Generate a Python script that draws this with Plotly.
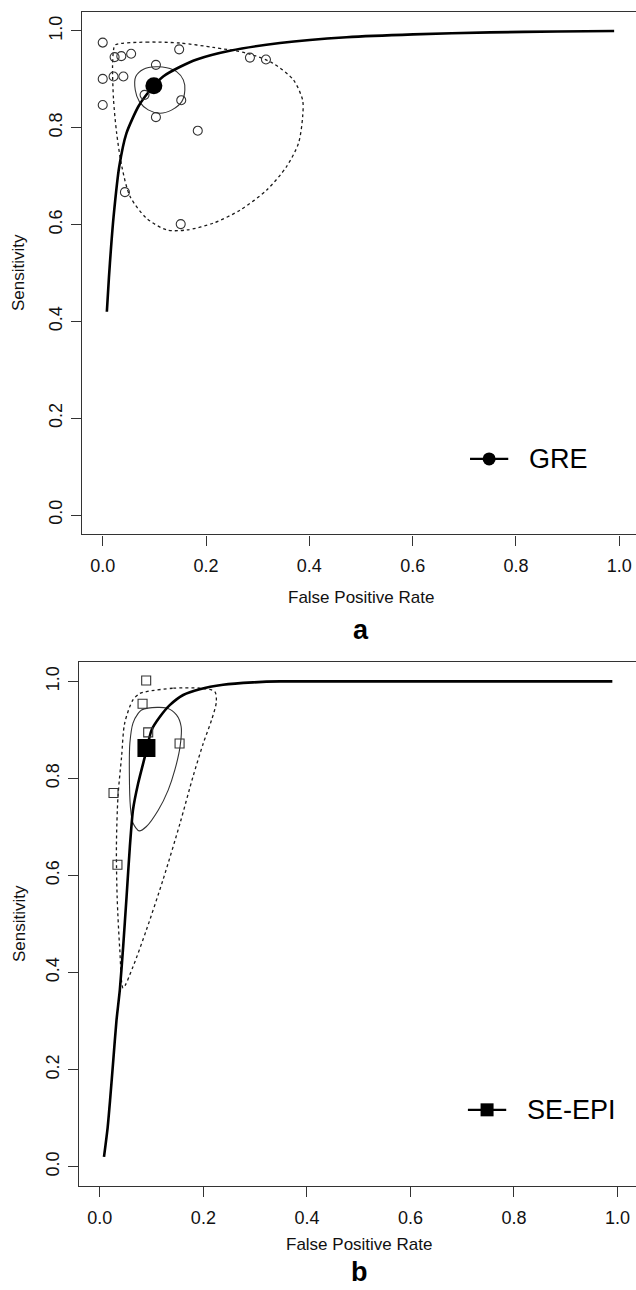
import plotly.graph_objects as go

W, H = 636, 1290

# ---------------- Panel a: GRE ----------------
gre_fpr = [0.0, 0.023, 0.036, 0.055, 0.148, 0.0, 0.021, 0.040, 0.0, 0.103,
           0.081, 0.152, 0.103, 0.184, 0.285, 0.316, 0.043, 0.151]
gre_sens = [0.976, 0.946, 0.948, 0.953, 0.962, 0.901, 0.906, 0.906, 0.847, 0.930,
            0.868, 0.857, 0.822, 0.794, 0.945, 0.941, 0.667, 0.601]
gre_sum_fpr = [0.099]
gre_sum_sens = [0.887]
gre_sroc_fpr = [0.008, 0.012, 0.016, 0.021, 0.032, 0.046, 0.069, 0.092, 0.117, 0.150,
                0.182, 0.246, 0.343, 0.472, 0.601, 0.75, 0.88, 0.99]
gre_sroc_sens = [0.42, 0.49, 0.551, 0.616, 0.720, 0.789, 0.844, 0.878, 0.906, 0.926,
                 0.941, 0.959, 0.975, 0.987, 0.993, 0.997, 0.999, 1.0]
gre_conf_fpr = [0.103, 0.124, 0.143, 0.156, 0.159, 0.153, 0.134, 0.111, 0.088, 0.071,
                0.063, 0.064, 0.079, 0.103]
gre_conf_sens = [0.926, 0.924, 0.916, 0.899, 0.878, 0.854, 0.837, 0.830, 0.837, 0.854,
                 0.878, 0.906, 0.921, 0.926]
gre_pred_fpr = [0.024, 0.085, 0.150, 0.214, 0.279, 0.330, 0.369, 0.387, 0.387, 0.379,
                0.356, 0.317, 0.266, 0.214, 0.163, 0.124, 0.085, 0.053, 0.037, 0.027,
                0.021, 0.019, 0.021, 0.024]
gre_pred_sens = [0.971, 0.977, 0.975, 0.966, 0.954, 0.933, 0.899, 0.857, 0.823, 0.768,
                 0.720, 0.671, 0.630, 0.603, 0.589, 0.589, 0.613, 0.658, 0.720, 0.789,
                 0.857, 0.926, 0.961, 0.971]

# ---------------- Panel b: SE-EPI ----------------
epi_fpr = [0.0895, 0.0825, 0.0934, 0.154, 0.0264, 0.034]
epi_sens = [1.002, 0.954, 0.895, 0.872, 0.770, 0.622]
epi_sum_fpr = [0.090]
epi_sum_sens = [0.863]
epi_sroc_fpr = [0.008, 0.015, 0.020, 0.026, 0.032, 0.0386, 0.045, 0.0516, 0.058, 0.064,
                0.074, 0.087, 0.100, 0.116, 0.135, 0.161, 0.193, 0.238, 0.296, 0.348,
                0.5, 0.7, 0.99]
epi_sroc_sens = [0.02, 0.08, 0.14, 0.22, 0.30, 0.364, 0.453, 0.556, 0.660, 0.735,
                 0.790, 0.845, 0.900, 0.927, 0.951, 0.972, 0.984, 0.993, 0.998, 1.0,
                 1.0, 1.0, 1.0]
epi_conf_fpr = [0.0805, 0.093, 0.129, 0.148, 0.157, 0.155, 0.145, 0.132, 0.113, 0.090,
                0.076, 0.064, 0.059, 0.057, 0.058, 0.064, 0.074, 0.0805]
epi_conf_sens = [0.941, 0.945, 0.945, 0.931, 0.907, 0.866, 0.818, 0.776, 0.735, 0.701,
                 0.692, 0.708, 0.742, 0.811, 0.873, 0.914, 0.934, 0.941]
epi_pred_fpr = [0.090, 0.142, 0.193, 0.222, 0.225, 0.216, 0.200, 0.180, 0.155, 0.122,
                0.090, 0.064, 0.045, 0.0386, 0.0334, 0.032, 0.035, 0.042, 0.048, 0.064,
                0.077, 0.090]
epi_pred_sens = [0.979, 0.986, 0.986, 0.979, 0.958, 0.921, 0.873, 0.804, 0.708, 0.591,
                 0.488, 0.412, 0.368, 0.446, 0.556, 0.660, 0.762, 0.845, 0.914, 0.962,
                 0.975, 0.979]

tick_vals = [0.0, 0.2, 0.4, 0.6, 0.8, 1.0]
tick_text = ["0.0", "0.2", "0.4", "0.6", "0.8", "1.0"]
x_title = "False Positive Rate"
y_title = "Sensitivity"
panel_labels = ["a", "b"]
legend_names = ["GRE", "SE-EPI"]
legend_pos = [0.116, 0.117]   # sensitivity level of the legend entry

FONT = "Liberation Sans, Arial, sans-serif"
INK = "#1a1a1a"

fig = go.Figure()


def add_panel(fig, xa, ya, fpr, sens, sfpr, ssens, cf, cs, pf, ps, rf, rs, sym, ssym, ssize, legy, name):
    # prediction region (dotted)
    fig.add_trace(go.Scatter(x=pf, y=ps, mode="lines", xaxis=xa, yaxis=ya,
                             line=dict(color=INK, width=1.3, dash="dot", shape="spline", smoothing=0.8),
                             showlegend=False, hoverinfo="skip"))
    # confidence region (solid thin)
    fig.add_trace(go.Scatter(x=cf, y=cs, mode="lines", xaxis=xa, yaxis=ya,
                             line=dict(color="#333333", width=1.1, shape="spline", smoothing=0.8),
                             showlegend=False, hoverinfo="skip"))
    # SROC curve
    fig.add_trace(go.Scatter(x=rf, y=rs, mode="lines", xaxis=xa, yaxis=ya,
                             line=dict(color="#000000", width=2.6, shape="spline", smoothing=0.6),
                             showlegend=False, hoverinfo="skip"))
    # study points
    fig.add_trace(go.Scatter(x=fpr, y=sens, mode="markers", xaxis=xa, yaxis=ya,
                             marker=dict(symbol=sym, size=9, color="#333333", line=dict(width=1.1, color="#333333")),
                             showlegend=False, hoverinfo="skip"))
    # summary point
    fig.add_trace(go.Scatter(x=sfpr, y=ssens, mode="markers", xaxis=xa, yaxis=ya,
                             marker=dict(symbol=ssym, size=ssize, color="#000000"),
                             showlegend=False, hoverinfo="skip"))
    # legend entry
    fig.add_trace(go.Scatter(x=[0.711, 0.748, 0.785], y=[legy] * 3, mode="lines", xaxis=xa, yaxis=ya,
                             line=dict(color="#000000", width=2.4), showlegend=False, hoverinfo="skip"))
    fig.add_trace(go.Scatter(x=[0.748], y=[legy], mode="markers", xaxis=xa, yaxis=ya,
                             marker=dict(symbol=ssym, size=13, color="#000000"), showlegend=False, hoverinfo="skip"))
    fig.add_annotation(x=0.821, y=legy, xref=xa, yref=ya, text=name, showarrow=False,
                       xanchor="left", yanchor="middle", font=dict(family=FONT, size=27, color="#000"))


add_panel(fig, "x", "y", gre_fpr, gre_sens, gre_sum_fpr, gre_sum_sens,
          gre_conf_fpr, gre_conf_sens, gre_pred_fpr, gre_pred_sens,
          gre_sroc_fpr, gre_sroc_sens, "circle-open", "circle", 17, legend_pos[0], legend_names[0])
add_panel(fig, "x2", "y2", epi_fpr, epi_sens, epi_sum_fpr, epi_sum_sens,
          epi_conf_fpr, epi_conf_sens, epi_pred_fpr, epi_pred_sens,
          epi_sroc_fpr, epi_sroc_sens, "square-open", "square", 18, legend_pos[1], legend_names[1])


def px_y(p):
    return 1 - p / H


def px_x(p):
    return p / W


axis_common = dict(
    tickmode="array", tickvals=tick_vals, ticktext=tick_text,
    ticks="outside", ticklen=10, tickwidth=1.2, tickcolor="#333",
    showgrid=False, zeroline=False, showline=True, linecolor="#333", linewidth=1.3,
    tickfont=dict(family=FONT, size=18, color="#111"), automargin=False,
)

fig.update_layout(
    width=W, height=H, template="none",
    margin=dict(l=0, r=0, t=0, b=0),
    paper_bgcolor="white", plot_bgcolor="white", showlegend=False,
    xaxis=dict(domain=[px_x(82), 1.0], range=[-0.0401, 1.0323], anchor="y", mirror=True,
               ticklabelstandoff=5, **axis_common),
    yaxis=dict(domain=[px_y(534.4), px_y(11.6)], range=[-0.04, 1.04], anchor="x", tickangle=-90,
               ticklabelstandoff=2, **axis_common),
    xaxis2=dict(domain=[px_x(79.3), 1.0], range=[-0.0397, 1.0357], anchor="y2", mirror=True,
                ticklabelstandoff=5, **axis_common),
    yaxis2=dict(domain=[px_y(1186), px_y(662)], range=[-0.04, 1.04], anchor="x2", tickangle=-90,
                ticklabelstandoff=2, **axis_common),
)

# axis titles and panel labels
for cx, ty, ly, lab_y, lab in [(361, 597, 273, 630, panel_labels[0]), (359, 1244, 924, 1272, panel_labels[1])]:
    fig.add_annotation(x=px_x(cx), y=px_y(ty), xref="paper", yref="paper", text=x_title, showarrow=False,
                       xanchor="center", yanchor="middle", font=dict(family=FONT, size=17, color="#111"))
    fig.add_annotation(x=px_x(19), y=px_y(ly), xref="paper", yref="paper", text=y_title, showarrow=False,
                       textangle=-90, xanchor="center", yanchor="middle", font=dict(family=FONT, size=17, color="#111"))
    fig.add_annotation(x=px_x(cx), y=px_y(lab_y), xref="paper", yref="paper", text="<b>" + lab + "</b>",
                       showarrow=False, xanchor="center", yanchor="middle",
                       font=dict(family=FONT, size=27, color="#000"))

fig.write_html("out.html", config={"displayModeBar": False},
               post_script="document.body.style.margin='0';document.body.style.overflow='hidden';")
